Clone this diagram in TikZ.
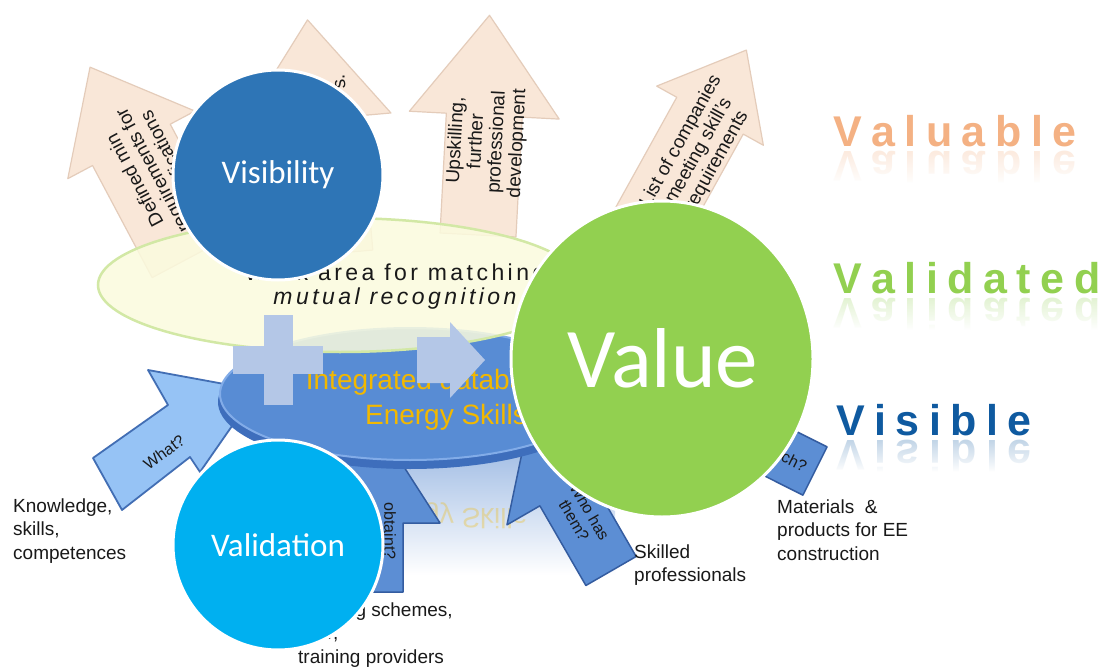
\documentclass[tikz,border=0pt]{standalone}
\usepackage{fontspec}
\setmainfont{Liberation Sans}
\newfontfamily\calib{Carlito}
\usetikzlibrary{fadings}
\definecolor{beigeF}{RGB}{249,231,216}
\definecolor{beigeD}{RGB}{228,204,186}
\definecolor{upF}{RGB}{251,251,222}
\definecolor{upD}{RGB}{210,232,165}
\definecolor{diskF}{RGB}{88,140,212}
\definecolor{diskR}{RGB}{130,172,232}
\definecolor{diskS}{RGB}{62,110,188}
\definecolor{bluF}{RGB}{92,142,212}
\definecolor{bluD}{RGB}{52,92,160}
\definecolor{whatF}{RGB}{150,195,245}
\definecolor{whatD}{RGB}{66,110,180}
\definecolor{plusC}{RGB}{180,199,231}
\definecolor{visC}{RGB}{46,117,182}
\definecolor{valiC}{RGB}{0,176,240}
\definecolor{valueC}{RGB}{146,208,80}
\definecolor{orangeW}{RGB}{244,177,131}
\definecolor{greenW}{RGB}{146,208,80}
\definecolor{blueW}{RGB}{15,90,160}
\definecolor{goldC}{RGB}{242,184,0}
\definecolor{glowC}{RGB}{160,188,228}
\definecolor{txtC}{RGB}{25,25,25}
\tikzset{
  beigearr/.style={fill=beigeF, draw=beigeD, line width=1.2pt, line join=round},
  bluearr/.style={fill=bluF, draw=bluD, line width=1.5pt, line join=round},
  whatarr/.style={fill=whatF, draw=whatD, line width=1.8pt, line join=round},
  arrtext/.style={text=txtC, align=center, inner sep=0pt, font=\fontsize{19}{20.5}\selectfont},
  qtext/.style={text=txtC, align=center, inner sep=0pt, font=\fontsize{16}{18}\selectfont},
  lbl/.style={text=txtC, anchor=west, align=left, inner sep=0pt, font=\fontsize{19}{23.5}\selectfont},
  bigcirc/.style={circle, draw=white, line width=3pt, minimum size=210pt, inner sep=0pt, text=white, font=\calib\fontsize{33}{33}\selectfont},
  word/.style={anchor=base west, inner sep=0pt, font=\bfseries\fontsize{43}{43}\selectfont}
}
\newcommand\Ls{\kern 9.5pt}
\newcommand\UpArr[8]{%
  \begin{scope}[shift={(#2,#3)},rotate=#4]
    \path[#1] (-#8,0) -- (-#8,{-#5+#6}) -- (-#7,{-#5+#6}) -- (0,-#5) -- (#7,{-#5+#6}) -- (#8,{-#5+#6}) -- (#8,0) -- cycle;
  \end{scope}}
\begin{document}
\begin{tikzpicture}[x=1pt,y=-1pt]
\fill[white] (0,0) rectangle (1102,668);
\useasboundingbox (0,0) rectangle (1102,668);

% beige arrows (behind the work area)
\UpArr{beigearr}{191}{257}{28}{215}{88}{72}{44}
\UpArr{beigearr}{328}{254}{5}{235}{100}{75}{45}
\UpArr{beigearr}{478}{235}{-3}{220}{100}{75}{38}
\UpArr{beigearr}{630}{260}{-29}{240}{75}{61}{38}
\node[arrtext, rotate=118] (ta) at (154,170) {Defined min\\requirements for\\qualifications};
\node[arrtext, rotate=95] (tb) at (340,82) {s.};
\node[arrtext, rotate=87] (tc) at (487,142) {Upskilling,\\further\\professional\\development};
\node[arrtext, rotate=61] (td) at (699,151) {List of companies\\meeting skill's\\requirements};

% glow and reflection under the database disk
\shade[top color=glowC, bottom color=white] (335,445) rectangle (615,575);
\node[yscale=-1, text=goldC, opacity=.3, inner sep=0pt, font=\fontsize{28}{34}\selectfont] (refl) at (446,516) {Energy Skills};

% blue question arrows
\path[whatarr] (93,458) -- (168,405) -- (148,370) -- (257,390) -- (200,472) -- (190,457) -- (122,510) -- cycle;
\node[qtext, rotate=36] (qwhat) at (164,452) {What?};
\UpArr{bluearr}{370}{592}{0}{178}{109}{70}{33}
\node[qtext, rotate=-90] (qobt) at (390,531) {obtaint?};
\UpArr{bluearr}{611}{571}{30}{167}{75}{67}{29}
\node[qtext, rotate=-60] (qwho) at (582,516) {Who has\\them?};
\UpArr{bluearr}{815}{471}{63.4}{220}{75}{60}{27}
\node[qtext, rotate=-26.6] (qwhich) at (782,455) {Which?};

% database disk
\fill[diskS] (410,402) ellipse [x radius=192pt, y radius=67pt];
\path[fill=diskF, draw=diskR, line width=2pt] (410,394) ellipse [x radius=190pt, y radius=66pt];

% work area ellipse
\path[fill=upF, fill opacity=.85, draw=upD, line width=2.5pt] (340,285) ellipse [x radius=242pt, y radius=67pt];
\node[text=txtC, inner sep=0pt, font=\fontsize{23}{23}\selectfont\addfontfeatures{LetterSpace=15}] (wa1) at (395,275) {Work area for matching};
\node[text=txtC, inner sep=0pt, font=\fontsize{23}{23}\selectfont\itshape\addfontfeatures{LetterSpace=15}] (wa2) at (395,299) {mutual recognition};

\node[text=goldC, align=center, inner sep=0pt, font=\fontsize{28}{35}\selectfont] (db) at (446,400) {Integrated database of\\Energy Skills};

% plus and arrow
\fill[plusC] (264,315) rectangle (293,405);
\fill[plusC] (233,346) rectangle (323,374);
\fill[plusC] (417,337) -- (450,337) -- (450,322) -- (485,360) -- (450,398) -- (450,383) -- (417,383) -- cycle;

% labels (circles lie over them)
\node[lbl] (lk) at (13,531) {Knowledge,\\skills,\\competences};
\node[lbl] (ls) at (634,565) {Skilled\\professionals};
\node[lbl] (lm) at (777,530) {Materials\ \ \&\\products for EE\\construction};
\node[lbl] (lt) at (298,635) {Training schemes,\\VET,\\training providers};

% circles
\node[bigcirc, fill=visC] (vis) at (278,175) {Visibility};
\node[bigcirc, fill=valiC] (vali) at (278,545) {Validation};
\path[fill=valueC, draw=white, line width=3pt] (662,359) ellipse [x radius=151pt, y radius=158pt];
\node[text=white, inner sep=0pt, font=\calib\fontsize{85}{85}\selectfont] (val) at (663,358) {Value};

% right words with reflections
\node[word, text=orangeW] (w1) at (833,147) {V\Ls a\Ls l\Ls u\Ls a\Ls b\Ls l\Ls e};
\node[word, text=orangeW, yscale=-1, opacity=.25] (w1r) at (833,152) {V\Ls a\Ls l\Ls u\Ls a\Ls b\Ls l\Ls e};
\fill[white, path fading=north] (828,152) rectangle (1102,184);
\node[word, text=greenW] (w2) at (833,293) {V\Ls a\Ls l\Ls i\Ls d\Ls a\Ls t\Ls e\Ls d};
\node[word, text=greenW, yscale=-1, opacity=.25] (w2r) at (833,298) {V\Ls a\Ls l\Ls i\Ls d\Ls a\Ls t\Ls e\Ls d};
\fill[white, path fading=north] (828,298) rectangle (1102,330);
\node[word, text=blueW] (w3) at (836,435) {V\Ls i\Ls s\Ls i\Ls b\Ls l\Ls e};
\node[word, text=blueW, yscale=-1, opacity=.25] (w3r) at (836,440) {V\Ls i\Ls s\Ls i\Ls b\Ls l\Ls e};
\fill[white, path fading=north] (832,440) rectangle (1102,472);
\end{tikzpicture}
\end{document}
